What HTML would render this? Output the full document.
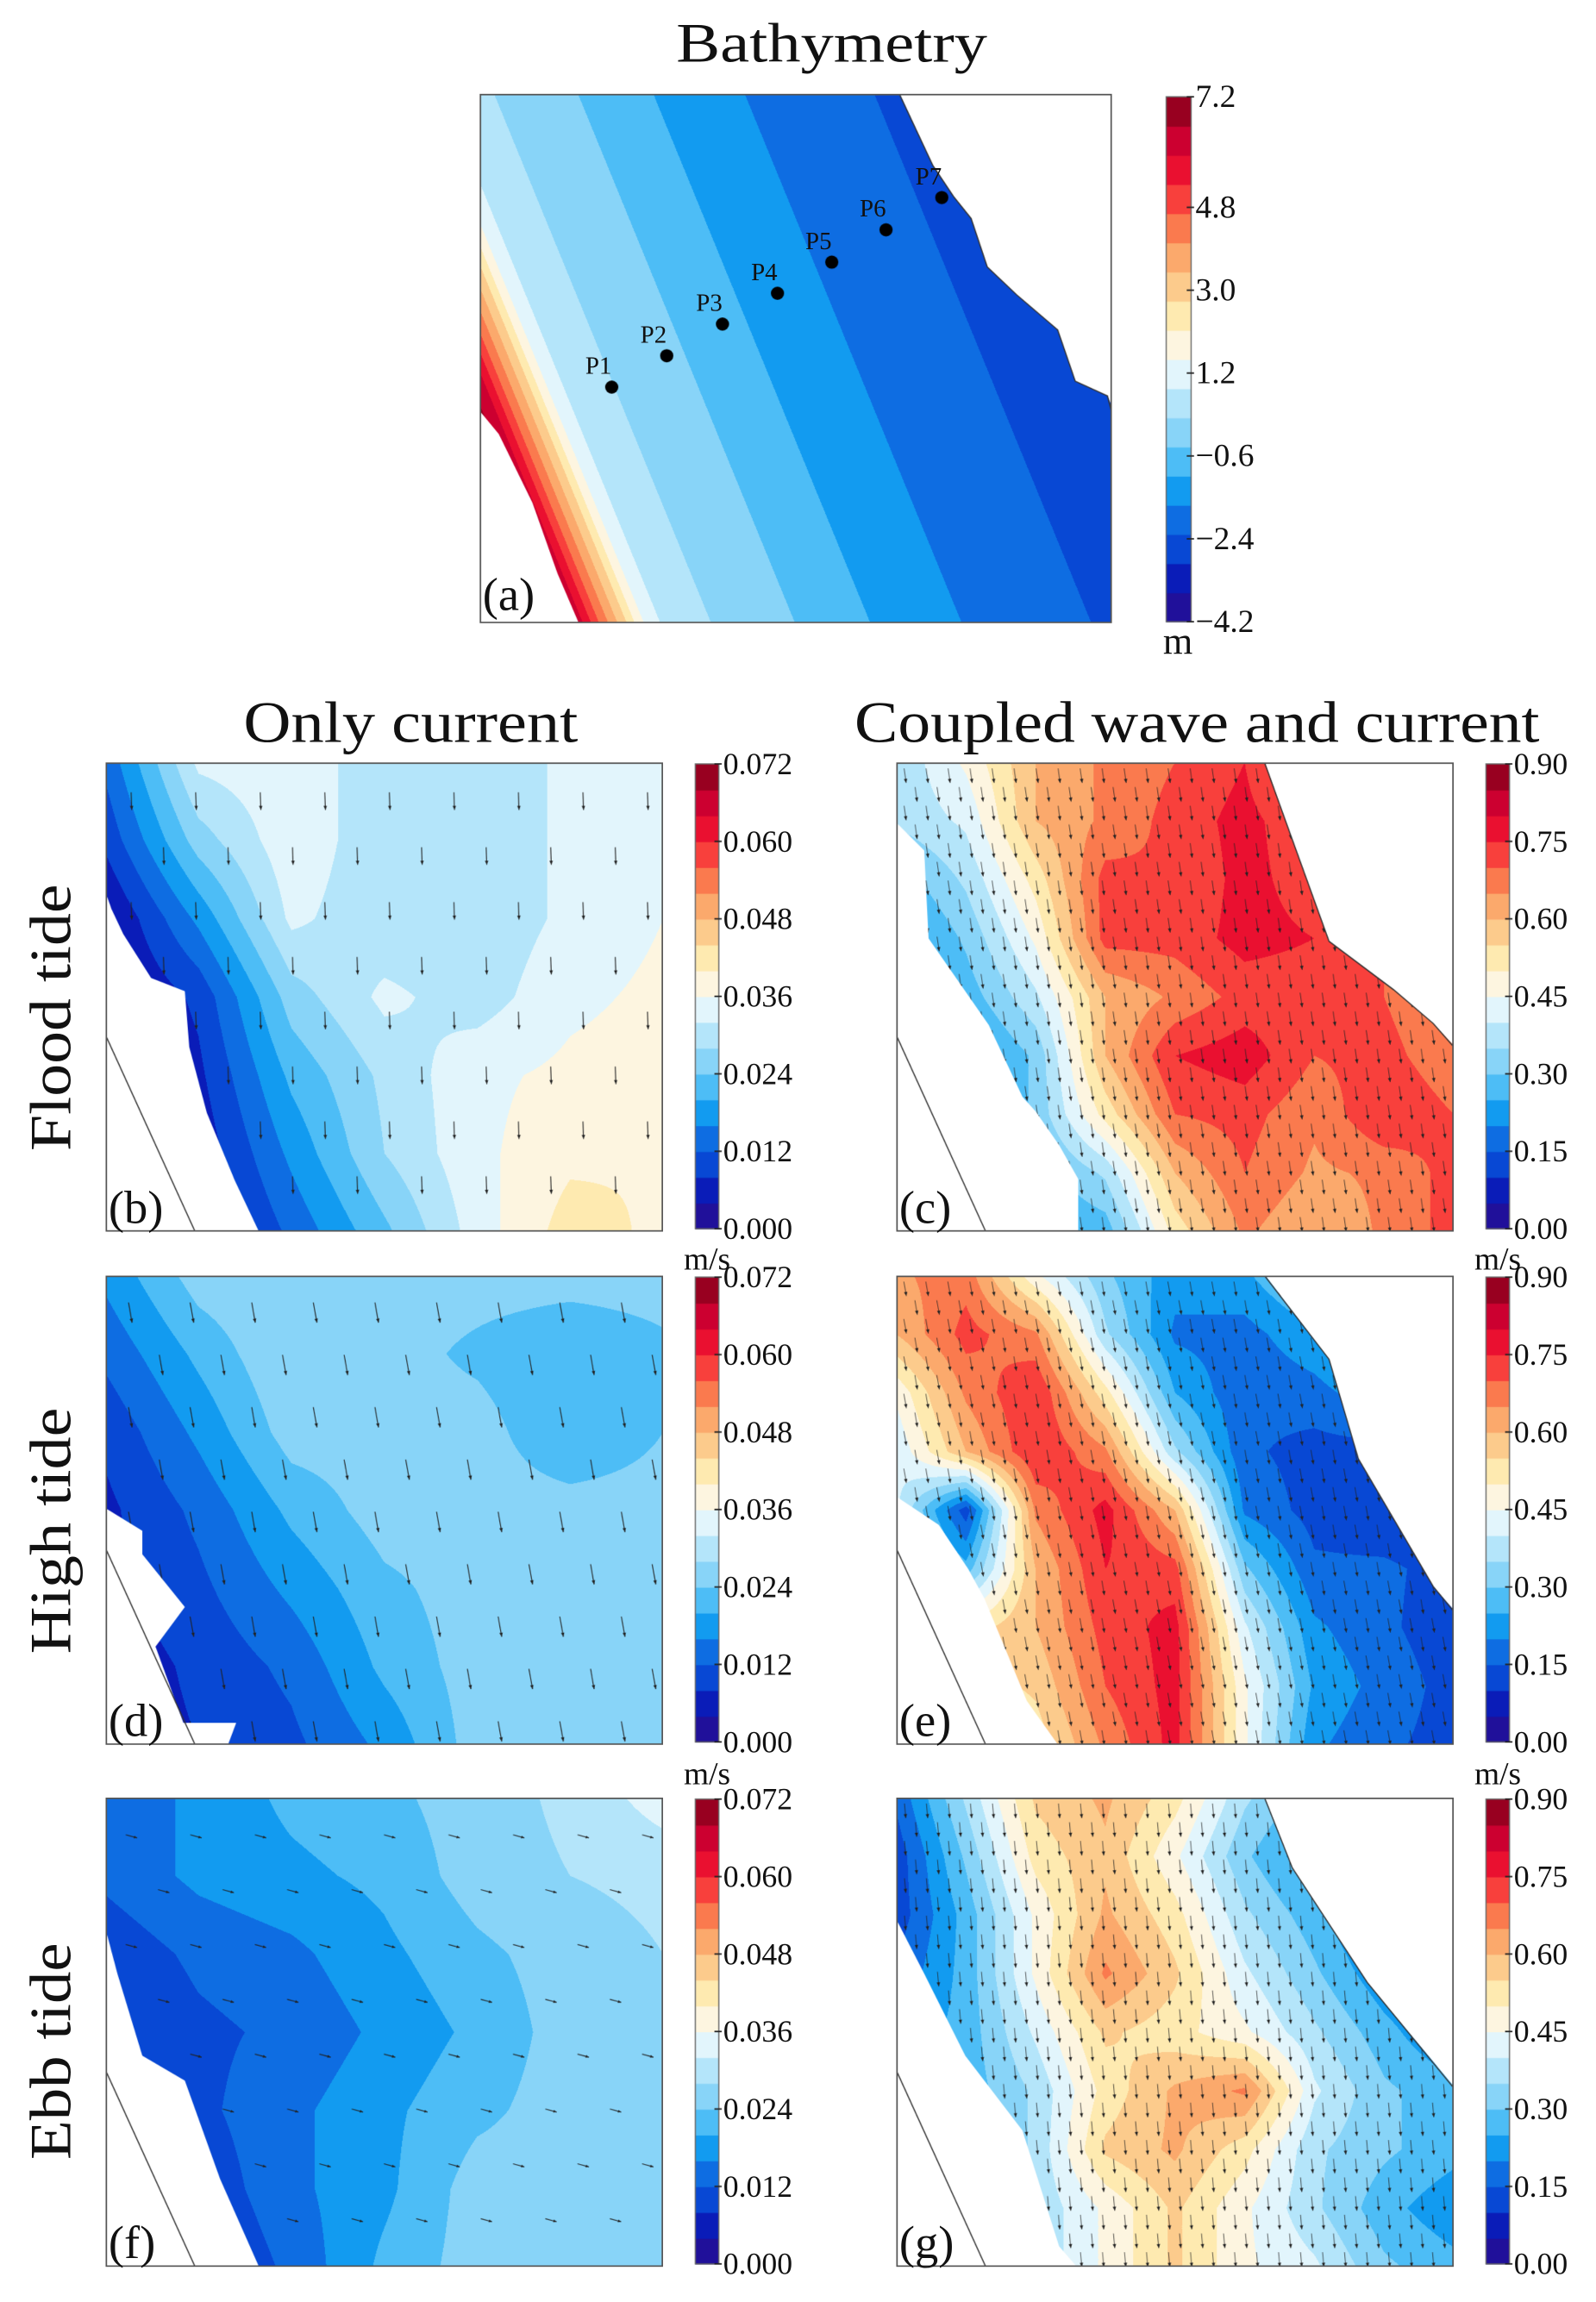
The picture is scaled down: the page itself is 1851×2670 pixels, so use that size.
<!DOCTYPE html>
<html><head><meta charset="utf-8"><style>
html,body{margin:0;padding:0;background:#fff;}
body{width:1851px;height:2670px;overflow:hidden;position:relative;}
#root{position:absolute;left:0;top:0;width:1088px;height:1570px;transform:scale(1.70129,1.70064);transform-origin:0 0;}
canvas{position:absolute;}
#ov{position:absolute;left:0;top:0;}
text{font-family:"Liberation Serif",serif;fill:#111;}
</style></head><body>
<div id="root">
<canvas id="cA"></canvas>
<canvas id="cB"></canvas>
<canvas id="cC"></canvas>
<canvas id="cD"></canvas>
<canvas id="cE"></canvas>
<canvas id="cF"></canvas>
<canvas id="cG"></canvas>
<canvas id="cbars" style="left:0;top:0"></canvas>
<svg id="ov" width="1088" height="1570" viewBox="0 0 1088 1570">
<text x="567" y="42" font-size="38" text-anchor="middle" textLength="212" lengthAdjust="spacingAndGlyphs">Bathymetry</text>
<text x="280" y="506" font-size="40" text-anchor="middle" textLength="228" lengthAdjust="spacingAndGlyphs">Only current</text>
<text x="816" y="506" font-size="40" text-anchor="middle" textLength="467" lengthAdjust="spacingAndGlyphs">Coupled wave and current</text>
<text transform="translate(48,694) rotate(-90)" font-size="40" text-anchor="middle" textLength="182" lengthAdjust="spacingAndGlyphs">Flood tide</text>
<text transform="translate(48,1044) rotate(-90)" font-size="40" text-anchor="middle" textLength="168" lengthAdjust="spacingAndGlyphs">High tide</text>
<text transform="translate(48,1399) rotate(-90)" font-size="40" text-anchor="middle" textLength="148" lengthAdjust="spacingAndGlyphs">Ebb tide</text>
<g id="labels"></g>
</svg>
</div>
<script>
// ---------- data ----------
const palette=["#20109a","#0a1cb8","#0848d4","#0e6de2","#129bf0","#4dbdf6","#88d4f8","#b4e5fa","#e2f5fc","#fdf5e0","#feeab0","#fccb8c","#fba96c","#fa7a4e","#f8403c","#ea1030","#cc0030","#980020"];
const bathyDist=[-95,-80,-72,-66,-60,-54,-48,-42,-36,-25,10,67,118,181,269,450];
const bathyDepth=[7.0,6.2,5.3,4.6,4.0,3.4,2.8,2.1,1.5,0.87,0.23,-0.4,-1.03,-1.67,-2.3,-2.8];
const bathyTicks=["7.2","4.8","3.0","1.2","\u22120.6","\u22122.4","\u22124.2"];
const bathyTickVals=[7.2,4.8,3.0,1.2,-0.6,-2.4,-4.2];
const stationNames=["P1","P2","P3","P4","P5","P6","P7"];
const stationX=[417,454.5,492.5,530,567,604,642];
const stationY=[264,242.6,221,200,178.8,156.7,134.7];
const curTicks=["0.072","0.060","0.048","0.036","0.024","0.012","0.000"];
const curTickVals=[0.072,0.060,0.048,0.036,0.024,0.012,0];
const cplTicks=["0.90","0.75","0.60","0.45","0.30","0.15","0.00"];
const cplTickVals=[0.9,0.75,0.6,0.45,0.3,0.15,0];
const fieldB=[[.013,.033,.035,.029,.029,.033,.035],[.009,.026,.035,.029,.029,.033,.035],[.003,.017,.033,.029,.029,.033,.036],[.002,.009,.026,.033,.030,.035,.037],[.001,.007,.021,.029,.035,.037,.038],[.001,.005,.017,.028,.035,.039,.040],[.001,.003,.013,.023,.034,.042,.039]];
const fieldD=[[.017,.026,.028,.026,.026,.026,.026],[.013,.021,.028,.026,.023,.020,.023],[.009,.017,.026,.026,.026,.020,.024],[.007,.013,.021,.026,.026,.026,.026],[.007,.011,.017,.023,.026,.026,.026],[.005,.009,.013,.021,.026,.026,.026],[.005,.008,.011,.017,.026,.026,.026]];
const fieldF=[[.013,.017,.021,.023,.026,.029,.034],[.013,.017,.019,.021,.026,.028,.029],[.009,.013,.015,.019,.023,.026,.028],[.007,.011,.013,.017,.021,.026,.026],[.005,.011,.015,.019,.023,.026,.026],[.005,.009,.015,.019,.026,.026,.026],[.005,.007,.013,.021,.026,.026,.026]];
const fieldC=[[.36,.46,.60,.66,.70,.75,.60,.52,.52],[.36,.41,.60,.66,.72,.77,.70,.60,.52],[.27,.36,.52,.72,.70,.77,.72,.66,.60],[.21,.31,.46,.72,.72,.77,.75,.70,.60],[.16,.27,.39,.60,.66,.72,.72,.70,.64],[.16,.21,.31,.60,.75,.78,.70,.72,.66],[.12,.21,.31,.52,.70,.72,.66,.75,.70],[.12,.16,.27,.36,.60,.70,.64,.66,.72],[.12,.16,.24,.27,.52,.66,.60,.66,.72]];
const fieldE=[[.64,.68,.46,.31,.22,.24,.33,.38,.38],[.60,.72,.66,.36,.19,.18,.24,.33,.33],[.46,.66,.75,.52,.25,.16,.18,.24,.24],[.41,.60,.75,.66,.36,.16,.13,.13,.13],[.41,.12,.66,.77,.60,.19,.13,.11,.10],[.41,.27,.60,.75,.72,.31,.16,.16,.13],[.46,.52,.60,.72,.77,.41,.21,.16,.12],[.46,.52,.56,.70,.77,.46,.24,.18,.13],[.46,.46,.52,.66,.77,.46,.21,.16,.13]];
const fieldG=[[.16,.36,.56,.61,.52,.36,.27,.31,.41],[.12,.31,.52,.59,.46,.31,.21,.19,.31],[.12,.27,.46,.61,.52,.36,.27,.16,.21],[.16,.27,.46,.66,.56,.41,.31,.21,.16],[.21,.27,.41,.56,.52,.46,.36,.27,.19],[.21,.27,.36,.52,.61,.66,.41,.31,.27],[.21,.27,.36,.56,.61,.52,.36,.31,.27],[.21,.27,.36,.46,.56,.46,.36,.27,.21],[.21,.27,.36,.46,.56,.46,.41,.31,.27]];
const arrowAngles=[88,80,15,82,80,85]; // b,d,f,c,e,g (deg, y down)

// ---------- helpers ----------
const R=2;
function hex(c){return [parseInt(c.substr(1,2),16),parseInt(c.substr(3,2),16),parseInt(c.substr(5,2),16)];}
const palRGB=palette.map(hex);
function colorIdx(v,vmin,vmax){let k=Math.floor((v-vmin)/(vmax-vmin)*palette.length);return Math.max(0,Math.min(palette.length-1,k));}
function interp1(xs,ys,x){if(x<=xs[0])return ys[0];for(let i=1;i<xs.length;i++){if(x<=xs[i]){const t=(x-xs[i-1])/(xs[i]-xs[i-1]);return ys[i-1]+t*(ys[i]-ys[i-1]);}}return ys[ys.length-1];}
function bilin(g,u,v){const nr=g.length,nc=g[0].length;let gx=u*(nc-1),gy=v*(nr-1);let i=Math.min(nc-2,Math.floor(gx)),j=Math.min(nr-2,Math.floor(gy));const tx=gx-i,ty=gy-j;return g[j][i]*(1-tx)*(1-ty)+g[j][i+1]*tx*(1-ty)+g[j+1][i]*(1-tx)*ty+g[j+1][i+1]*tx*ty;}
function setupCanvas(id,x,y,w,h){const c=document.getElementById(id);c.style.left=x+'px';c.style.top=y+'px';c.style.width=w+'px';c.style.height=h+'px';c.width=w*R;c.height=h*R;return c.getContext('2d');}
function paint(ctx,x0,y0,w,h,fn,vmin,vmax){const W=w*R,H=h*R;const img=ctx.createImageData(W,H);for(let j=0;j<H;j++){for(let i=0;i<W;i++){const X=x0+(i+.5)/R,Y=y0+(j+.5)/R;const v=fn(X,Y);const c=palRGB[colorIdx(v,vmin,vmax)];const p=(j*W+i)*4;img.data[p]=c[0];img.data[p+1]=c[1];img.data[p+2]=c[2];img.data[p+3]=255;}}ctx.putImageData(img,0,0);ctx.setTransform(R,0,0,R,-R*x0,-R*y0);}
function poly(ctx,pts,dy){ctx.beginPath();pts.forEach((p,i)=>{if(i)ctx.lineTo(p[0],p[1]+dy);else ctx.moveTo(p[0],p[1]+dy);});ctx.closePath();ctx.fillStyle='#fff';ctx.fill();}
function arrows(ctx,x0,y0,w,h,sp,len,ang,lw){const a=ang*Math.PI/180;ctx.strokeStyle='#222';ctx.fillStyle='#222';ctx.lineWidth=lw;let row=0;for(let y=y0+sp*0.6;y<y0+h-4;y+=sp*0.85,row++){for(let x=x0+sp*0.4+(row%2)*sp*0.5;x<x0+w-4;x+=sp){const dx=Math.cos(a)*len,dy=Math.sin(a)*len;ctx.beginPath();ctx.moveTo(x-dx/2,y-dy/2);ctx.lineTo(x+dx/2,y+dy/2);ctx.stroke();const hx=x+dx/2,hy=y+dy/2,hl=Math.min(3,len*0.3);ctx.beginPath();ctx.moveTo(hx,hy);ctx.lineTo(hx-Math.cos(a-0.4)*hl,hy-Math.sin(a-0.4)*hl);ctx.lineTo(hx-Math.cos(a+0.4)*hl,hy-Math.sin(a+0.4)*hl);ctx.closePath();ctx.fill();}}}
function frame(ctx,x,y,w,h){ctx.strokeStyle='#555';ctx.lineWidth=1;ctx.strokeRect(x+.5,y+.5,w-1,h-1);}
function coast(ctx,x1,y1,x2,y2){ctx.strokeStyle='#333';ctx.lineWidth=0.8;ctx.beginPath();ctx.moveTo(x1,y1);ctx.lineTo(x2,y2);ctx.stroke();}

// ---------- panel a ----------
(function(){const x0=327,y0=64,w=431,h=361;const ctx=setupCanvas('cA',x0,y0,w,h);
paint(ctx,x0,y0,w,h,(X,Y)=>interp1(bathyDist,bathyDepth,X-327-0.41*(Y-64)),-4.2,7.2);
poly(ctx,[[613,63],[636,113],[650,134],[662,149],[673,182],[693,201],[721,225],[733,260],[755,270],[760,282],[760,63]],0);
poly(ctx,[[326,279],[340,296],[363,343],[380,391],[395,426],[326,426]],0);
ctx.strokeStyle='#333';ctx.lineWidth=0.8;ctx.beginPath();ctx.moveTo(613,64);ctx.lineTo(636,113);ctx.lineTo(650,134);ctx.lineTo(662,149);ctx.lineTo(673,182);ctx.lineTo(693,201);ctx.lineTo(721,225);ctx.lineTo(733,260);ctx.lineTo(755,270);ctx.lineTo(758,282);ctx.stroke();
for(let i=0;i<stationX.length;i++){ctx.fillStyle='#000';ctx.beginPath();ctx.arc(stationX[i],stationY[i],4.5,0,Math.PI*2);ctx.fill();}
frame(ctx,x0,y0,w,h);})();

// ---------- lower panels ----------
const PW=380,PH=320;
const panels=[
 {id:'cB',x:72,y:520,f:fieldB,max:0.072,sp:44,len:12,lw:0.6,ang:arrowAngles[0],masks:[[[71,86],[76,100],[84,117],[103,147],[126,156],[129,194],[141,239],[160,285],[177,321],[71,321]]],cx:72},
 {id:'cD',x:72,y:870,f:fieldD,max:0.072,sp:42,len:14,lw:0.6,ang:arrowAngles[1],masks:[[[71,158],[97,174],[97,190],[126,226],[106,253],[125,305],[161,305],[155,321],[71,321]]],cx:72},
 {id:'cF',x:72,y:1226,f:fieldF,max:0.072,sp:44,len:8,lw:0.6,ang:arrowAngles[2],masks:[[[71,86],[80,120],[97,176],[126,193],[150,260],[177,321],[71,321]]],cx:72},
 {id:'cC',x:611,y:520,f:fieldC,max:0.9,sp:15,len:10,lw:0.4,ang:arrowAngles[3],masks:[[[610,40],[630,60],[633,120],[674,179],[697,228],[706,238],[722,261],[735,284],[735,321],[610,321]],[[862,-1],[880,50],[906,122],[950,155],[977,178],[992,194],[992,-1]]],cx:611,rb:[[862,0],[880,50],[906,122],[950,155],[977,178],[991,194]]},
 {id:'cE',x:611,y:870,f:fieldE,max:0.9,sp:15,len:10,lw:0.4,ang:arrowAngles[4],masks:[[[610,150],[640,170],[660,200],[671,220],[700,290],[722,321],[610,321]],[[862,-1],[906,57],[926,125],[977,212],[992,229],[992,-1]]],cx:611,rb:[[862,0],[906,57],[926,125],[977,212],[991,229]]},
 {id:'cG',x:611,y:1226,f:fieldG,max:0.9,sp:15,len:10,lw:0.4,ang:arrowAngles[5],masks:[[[610,81],[630,120],[658,176],[697,227],[722,306],[735,321],[610,321]],[[862,-1],[881,48],[932,126],[992,198],[992,-1]]],cx:611,rb:[[862,0],[881,48],[932,126],[991,198]]}
];
panels.forEach(p=>{const ctx=setupCanvas(p.id,p.x,p.y,PW,PH);
 paint(ctx,p.x,p.y,PW,PH,(X,Y)=>bilin(p.f,(X-p.x)/PW,(Y-p.y)/PH),0,p.max);
 arrows(ctx,p.x,p.y,PW,PH,p.sp,p.len,p.ang,p.lw);
 p.masks.forEach(m=>poly(ctx,m,p.y));
 coast(ctx,p.cx,p.y+186,p.cx+61,p.y+320);
 if(p.rb){ctx.strokeStyle='#333';ctx.lineWidth=0.8;ctx.beginPath();p.rb.forEach((q,i)=>{if(i)ctx.lineTo(q[0],q[1]+p.y);else ctx.moveTo(q[0],q[1]+p.y);});ctx.stroke();}
 frame(ctx,p.x,p.y,PW,PH);});

// ---------- colorbars ----------
(function(){const c=document.getElementById('cbars');c.style.width='1088px';c.style.height='1570px';c.width=1088*R;c.height=1570*R;const ctx=c.getContext('2d');ctx.scale(R,R);
 const bars=[{x:795,y:66,w:17,h:358,tv:bathyTickVals,tl:bathyTicks,min:-4.2,max:7.2},
 {x:474,y:521,w:16,h:317,tv:curTickVals,tl:curTicks,min:0,max:0.072},{x:1013,y:521,w:16,h:317,tv:cplTickVals,tl:cplTicks,min:0,max:0.9},
 {x:474,y:871,w:16,h:317,tv:curTickVals,tl:curTicks,min:0,max:0.072},{x:1013,y:871,w:16,h:317,tv:cplTickVals,tl:cplTicks,min:0,max:0.9},
 {x:474,y:1227,w:16,h:317,tv:curTickVals,tl:curTicks,min:0,max:0.072},{x:1013,y:1227,w:16,h:317,tv:cplTickVals,tl:cplTicks,min:0,max:0.9}];
 const g=document.getElementById('labels');const NS='http://www.w3.org/2000/svg';
 bars.forEach((b,bi)=>{const n=palette.length;for(let k=0;k<n;k++){ctx.fillStyle=palette[k];const y1=b.y+b.h-(k+1)*b.h/n;ctx.fillRect(b.x,y1,b.w,b.h/n+0.5);}
  ctx.strokeStyle='#666';ctx.lineWidth=0.8;ctx.strokeRect(b.x,b.y,b.w,b.h);
  b.tv.forEach((v,i)=>{const y=b.y+b.h-(v-b.min)/(b.max-b.min)*b.h;ctx.strokeStyle='#222';ctx.lineWidth=1;ctx.beginPath();ctx.moveTo(b.x+b.w-3,y);ctx.lineTo(b.x+b.w+2,y);ctx.stroke();
   const t=document.createElementNS(NS,'text');t.setAttribute('x',b.x+b.w+3);t.setAttribute('y',y+7);t.setAttribute('font-size',bi==0?22:21);t.textContent=b.tl[i];
   
   
   g.appendChild(t);});});
 function lab(x,y,s,txt,name,anchor){const t=document.createElementNS(NS,'text');t.setAttribute('x',x);t.setAttribute('y',y);t.setAttribute('font-size',s);if(anchor)t.setAttribute('text-anchor',anchor);t.textContent=txt;
  
  
  g.appendChild(t);}
 lab(803,446,26,'m','bathy-unit','middle');
 lab(482,866,22,'m/s','unit-b','middle');lab(1021,866,22,'m/s','unit-c','middle');
 lab(482,1217,22,'m/s','unit-d','middle');lab(1021,1217,22,'m/s','unit-e','middle');
 for(let i=0;i<stationNames.length;i++){lab(stationX[i]-9,stationY[i]-9,17,stationNames[i],'station-label','middle');}
 lab(329,416,32,'(a)','panel-label-a');
 lab(74,834,32,'(b)','panel-label-b');lab(613,834,32,'(c)','panel-label-c');
 lab(74,1184,32,'(d)','panel-label-d');lab(613,1184,32,'(e)','panel-label-e');
 lab(74,1540,32,'(f)','panel-label-f');lab(613,1540,32,'(g)','panel-label-g');
})();
</script>
</body></html>
